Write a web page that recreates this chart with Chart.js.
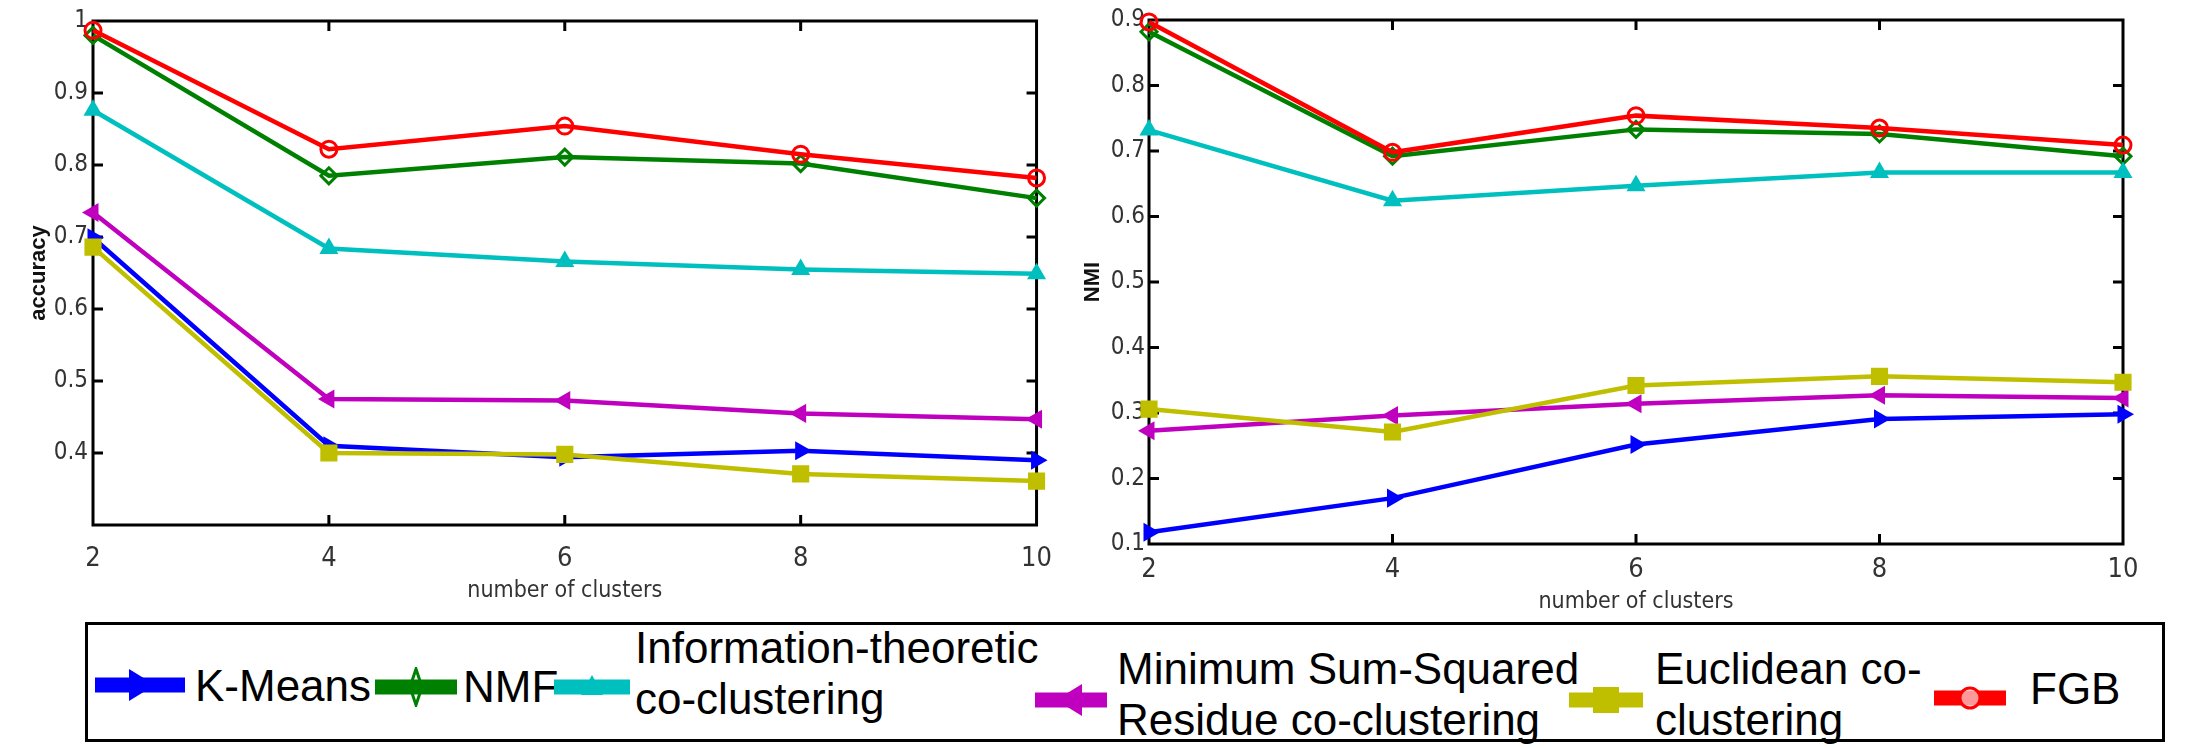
<!DOCTYPE html>
<html>
<head>
<meta charset="utf-8">
<script src="https://cdn.jsdelivr.net/npm/chart.js@4.4.0/dist/chart.umd.min.js"></script>
<style>
  body { margin: 0; background: #fff; width: 2195px; height: 749px; position: relative; overflow: hidden; font-family: "Liberation Sans", Arial, sans-serif; }
  #izq { position: absolute; left: 0; top: 0; }
  #der { position: absolute; left: 1070px; top: 0; }
  #leyenda { position: absolute; left: 85px; top: 622px; width: 2080px; height: 120px; border: 3px solid #000; box-sizing: border-box; }
  .mk { position: absolute; height: 40px; }
  .tx { position: absolute; font-size: 44px; line-height: 51px; color: #000; white-space: normal; }
  #m0 { left: 95px; top: 665px; width: 90px; }
  #m1 { left: 375px; top: 667px; width: 82px; }
  #m2 { left: 554px; top: 667px; width: 76px; }
  #m3 { left: 1035px; top: 680px; width: 72px; }
  #m4 { left: 1569px; top: 680px; width: 74px; }
  #m5 { left: 1934px; top: 678px; width: 72px; }
  #t0 { left: 195px; top: 660px; }
  #t1 { left: 463px; top: 661px; }
  #t2 { left: 635px; top: 622px; width: 430px; }
  #t3 { left: 1117px; top: 643px; width: 490px; }
  #t4 { left: 1655px; top: 643px; width: 285px; }
  #t5 { left: 2030px; top: 663px; }
</style>
</head>
<body>
<canvas id="izq" width="1070" height="615"></canvas>
<canvas id="der" width="1125" height="620"></canvas>
<div id="leyenda"></div>
<div id="items"></div>
<script>
// DATOS
const clusters = [2, 4, 6, 8, 10];
const metodos = ["K-Means", "NMF", "Information-theoretic co-clustering", "Minimum Sum-Squared Residue co-clustering", "Euclidean co-clustering", "FGB"];
const colores = ["#0000ff", "#008000", "#00bfbf", "#bf00bf", "#bfbf00", "#ff0000"];
const formas = ["tri-der", "diamante", "tri-arr", "tri-izq", "cuadro", "circulo"];

// accuracy
const accKMeans = [0.699, 0.410, 0.394, 0.403, 0.390];
const accNMF = [0.980, 0.785, 0.811, 0.802, 0.754];
const accInfo = [0.876, 0.684, 0.666, 0.655, 0.649];
const accMSSR = [0.734, 0.475, 0.473, 0.455, 0.447];
const accEuclid = [0.686, 0.400, 0.398, 0.371, 0.361];
const accFGB = [0.987, 0.822, 0.854, 0.815, 0.782];
const accTicks = [0.4, 0.5, 0.6, 0.7, 0.8, 0.9, 1.0];

// NMI
const nmiKMeans = [0.118, 0.170, 0.252, 0.291, 0.298];
const nmiNMF = [0.882, 0.692, 0.733, 0.726, 0.692];
const nmiInfo = [0.732, 0.624, 0.647, 0.667, 0.667];
const nmiMSSR = [0.273, 0.296, 0.314, 0.327, 0.323];
const nmiEuclid = [0.306, 0.271, 0.342, 0.356, 0.347];
const nmiFGB = [0.897, 0.698, 0.754, 0.735, 0.709];
const nmiTicks = [0.1, 0.2, 0.3, 0.4, 0.5, 0.6, 0.7, 0.8, 0.9];
// DATOS END

const fuenteEstrecha = '"Liberation Sans Narrow", "DejaVu Sans Condensed", "Liberation Sans", Arial, sans-serif';

function estiloPunto(f) {
  if (f === "tri-der") return { pointStyle: "triangle", rotation: 90 };
  if (f === "tri-izq") return { pointStyle: "triangle", rotation: 270 };
  if (f === "tri-arr") return { pointStyle: "triangle", rotation: 0 };
  if (f === "diamante") return { pointStyle: "rectRot", rotation: 0 };
  if (f === "cuadro") return { pointStyle: "rect", rotation: 0 };
  return { pointStyle: "circle", rotation: 0 };
}

// marco con ticks hacia dentro (estilo matlab)
const marco = {
  id: "marco",
  beforeDatasetsDraw(chart) {
    const { ctx, chartArea: a, scales } = chart;
    ctx.save();
    ctx.strokeStyle = "#000";
    ctx.lineWidth = 3;
    ctx.strokeRect(a.left, a.top, a.right - a.left, a.bottom - a.top);
    ctx.beginPath();
    scales.x.ticks.forEach((t) => {
      const px = scales.x.getPixelForValue(t.value);
      if (px <= a.left + 2 || px >= a.right - 2) return;
      ctx.moveTo(px, a.bottom); ctx.lineTo(px, a.bottom - 10);
      ctx.moveTo(px, a.top); ctx.lineTo(px, a.top + 10);
    });
    scales.y.ticks.forEach((t) => {
      const py = scales.y.getPixelForValue(t.value);
      if (py <= a.top + 2 || py >= a.bottom - 2) return;
      ctx.moveTo(a.left, py); ctx.lineTo(a.left + 10, py);
      ctx.moveTo(a.right, py); ctx.lineTo(a.right - 10, py);
    });
    ctx.stroke();
    ctx.restore();
  },
};

function grafico(id, series, yTicks, yMin, yMax, tituloY, lay) {
  const datasets = series.map((vals, i) => {
    const p = estiloPunto(formas[i]);
    const hueco = formas[i] === "circulo" || formas[i] === "diamante";
    return {
      label: metodos[i],
      data: clusters.map((c, j) => ({ x: c, y: vals[j] })),
      borderColor: colores[i],
      backgroundColor: colores[i],
      borderWidth: 4.5,
      pointStyle: p.pointStyle,
      rotation: p.rotation,
      pointRadius: formas[i] === "cuadro" ? 10 : 8,
      pointBorderWidth: 3,
      pointBackgroundColor: hueco ? "rgba(255,255,255,0)" : colores[i],
      pointBorderColor: colores[i],
      tension: 0,
      clip: false,
      order: series.length - i,
    };
  });
  return new Chart(document.getElementById(id), {
    type: "line",
    data: { datasets },
    options: {
      responsive: false,
      animation: false,
      devicePixelRatio: 1,
      layout: { padding: { top: lay.top, right: lay.right, left: 0, bottom: 0 } },
      plugins: { legend: { display: false }, tooltip: { enabled: false } },
      scales: {
        x: {
          type: "linear",
          min: clusters[0],
          max: clusters[clusters.length - 1],
          afterBuildTicks: (s) => { s.ticks = clusters.map((v) => ({ value: v })); },
          afterFit: (s) => { s.height = lay.xAlto; },
          grid: { display: false, drawTicks: false },
          border: { display: false },
          ticks: { padding: lay.xPad, color: "#333", font: { family: fuenteEstrecha, size: 27 } },
          title: { display: true, text: "number of clusters", color: "#333", padding: { top: 0, bottom: lay.xTitPad }, font: { family: fuenteEstrecha, size: 23 } },
        },
        y: {
          min: yMin,
          max: yMax,
          afterBuildTicks: (s) => { s.ticks = yTicks.map((v) => ({ value: v })); },
          afterFit: (s) => { s.width = lay.yAncho; },
          grid: { display: false, drawTicks: false },
          border: { display: false },
          ticks: {
            padding: lay.yPad,
            color: "#333",
            font: { family: fuenteEstrecha, size: 24 },
            callback: (v) => String(Number(v.toFixed(1))),
          },
          title: { display: true, text: tituloY, color: "#111", padding: { top: lay.yTitPad, bottom: 0 }, font: { family: "Liberation Sans, Arial, sans-serif", size: 22, weight: "bold" } },
        },
      },
    },
    plugins: [marco],
  });
}

grafico("izq", [accKMeans, accNMF, accInfo, accMSSR, accEuclid, accFGB], accTicks, 0.3, 1.0, "accuracy",
  { top: 21, right: 22, xAlto: 90, yAncho: 93, xPad: 18, xTitPad: 10, yPad: 5, yTitPad: 26 });
grafico("der", [nmiKMeans, nmiNMF, nmiInfo, nmiMSSR, nmiEuclid, nmiFGB], nmiTicks, 0.1, 0.9, "NMI",
  { top: 20, right: 72, xAlto: 76, yAncho: 79, xPad: 10, xTitPad: 4, yPad: 4, yTitPad: 10 });

// LEYENDA
function formaSvg(i) {
  const c = colores[i];
  switch (formas[i]) {
    case "tri-der": return `<polygon points="-11,-16 15,0 -11,16" fill="${c}"/>`;
    case "tri-izq": return `<polygon points="11,-16 -15,0 11,16" fill="${c}"/>`;
    case "tri-arr": return `<polygon points="-11,8 0,-12 11,8" fill="${c}"/>`;
    case "diamante": return `<polygon points="0,-18 6,0 0,18 -6,0" fill="none" stroke="${c}" stroke-width="3"/>`;
    case "cuadro": return `<rect x="-13" y="-13" width="26" height="26" fill="${c}"/>`;
    default: return `<circle cx="0" cy="0" r="10" fill="#fff" fill-opacity="0.6" stroke="${c}" stroke-width="3"/>`;
  }
}
let html = "";
metodos.forEach((m, i) => {
  html += `<svg class="mk" id="m${i}" height="40"><line x1="0" y1="20" x2="100%" y2="20" stroke="${colores[i]}" stroke-width="15"/><svg x="50%" y="20" overflow="visible">${formaSvg(i)}</svg></svg>`;
  html += `<div class="tx" id="t${i}">${m}</div>`;
});
document.getElementById("items").innerHTML = html;
</script>
</body>
</html>
